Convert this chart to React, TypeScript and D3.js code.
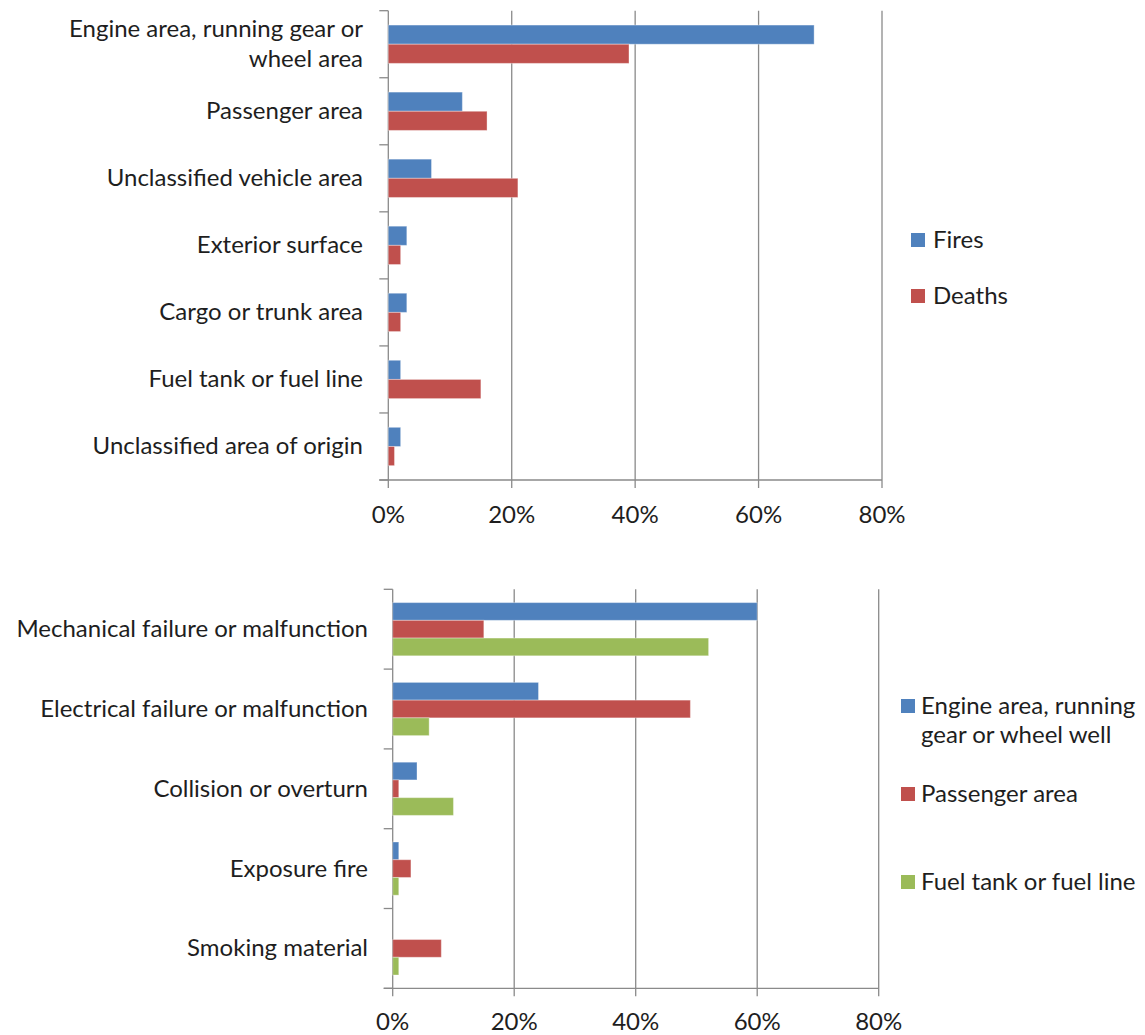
import React from "react";
import * as d3 from "d3";

const topCategories = [
  ["Engine area, running gear or", "wheel area"],
  ["Passenger area"],
  ["Unclassified vehicle area"],
  ["Exterior surface"],
  ["Cargo or trunk area"],
  ["Fuel tank or fuel line"],
  ["Unclassified area of origin"],
];
const topSeriesNames = ["Fires", "Deaths"];
const topFires = [69, 12, 7, 3, 3, 2, 2];
const topDeaths = [39, 16, 21, 2, 2, 15, 1];

const bottomCategories = [
  ["Mechanical failure or malfunction"],
  ["Electrical failure or malfunction"],
  ["Collision or overturn"],
  ["Exposure fire"],
  ["Smoking material"],
];
const bottomSeriesNames = [
  ["Engine area, running", "gear or wheel well"],
  ["Passenger area"],
  ["Fuel tank or fuel line"],
];
const bottomEngine = [60, 24, 4, 1, 0];
const bottomPassenger = [15, 49, 1, 3, 8];
const bottomFuel = [52, 6, 10, 1, 1];

const xTicks = [0, 20, 40, 60, 80];

const COLORS = ["#4F81BD", "#C0504D", "#9BBB59"];
const FONT = "Lato, 'Open Sans', sans-serif";
const FS = 24;
const SX = 1.0;
const DY = -1.5;
const TEXT = "#1e1e1e";
const GRID = "#8a8a8a";

function Label({ x, y, lines, anchor, lh }) {
  const n = lines.length;
  return (
    <g>
      {lines.map((l, i) => (
        <text
          key={i}
          transform={`translate(${x},${y + DY + (i - (n - 1) / 2) * lh}) scale(${SX},1)`}
          textAnchor={anchor}
          dominantBaseline="central"
          fontFamily={FONT}
          fontSize={FS}
          fill={TEXT}
        >
          {l}
        </text>
      ))}
    </g>
  );
}

function BarChart({ cats, series, names, x0, x1, y0, y1, labelX, tickLabelY, legendSquareX, legendTextX, legendYs, legendLH }) {
  const x = d3.scaleLinear().domain([0, 80]).range([x0, x1]);
  const keys = cats.map((_, i) => String(i));
  const yBand = d3.scaleBand().domain(keys).range([y0, y1]).padding(0);
  const bw = yBand.bandwidth();
  const n = series.length;
  const b = bw / (n + 1.5);
  const g0 = (bw - n * b) / 2;
  const inner = d3.scaleBand().domain(d3.range(n).map(String)).range([g0, g0 + n * b]).padding(0);
  const boundaries = d3.range(cats.length + 1).map((i) => y0 + i * bw);
  return (
    <g>
      {xTicks.slice(1).map((t) => (
        <line key={t} x1={x(t)} x2={x(t)} y1={y0} y2={y1 + 8} stroke={GRID} strokeWidth={1.3} />
      ))}
      <line x1={x(0)} x2={x(0)} y1={y0} y2={y1 + 8} stroke={GRID} strokeWidth={1.3} />
      <line x1={x(0) - 9} x2={x(80)} y1={y1} y2={y1} stroke={GRID} strokeWidth={1.3} />
      {boundaries.map((by, i) => (
        <line key={i} x1={x(0) - 9} x2={x(0)} y1={by} y2={by} stroke={GRID} strokeWidth={1.3} />
      ))}
      {cats.map((c, ci) =>
        series.map((s, si) => (
          <rect
            key={ci + "-" + si}
            x={x(0)}
            y={yBand(String(ci)) + inner(String(si))}
            width={Math.max(0, x(s[ci]) - x(0))}
            height={inner.bandwidth()}
            fill={COLORS[si]}
            stroke="rgba(255,255,255,0.35)"
            strokeWidth={1}
          />
        ))
      )}
      {cats.map((c, ci) => (
        <Label key={ci} x={labelX} y={yBand(String(ci)) + bw / 2} lines={c} anchor="end" lh={30} />
      ))}
      {xTicks.map((t) => (
        <Label key={t} x={x(t)} y={tickLabelY} lines={[t + "%"]} anchor="middle" lh={30} />
      ))}
      {names.map((nm, i) => {
        const lines = Array.isArray(nm) ? nm : [nm];
        const cy = legendYs[i];
        return (
          <g key={i}>
            <rect x={legendSquareX} y={cy - 7} width={14} height={14} fill={COLORS[i]} />
            {lines.map((l, li) => (
              <text
                key={li}
                transform={`translate(${legendTextX},${cy + DY + li * legendLH}) scale(${SX},1)`}
                dominantBaseline="central"
                fontFamily={FONT}
                fontSize={FS}
                fill={TEXT}
              >
                {l}
              </text>
            ))}
          </g>
        );
      })}
    </g>
  );
}

export default function App() {
  return (
    <svg width={1145} height={1035} style={{ position: "absolute", left: 0, top: 0, background: "#fff" }}>
      <rect width={1145} height={1035} fill="#fff" />
      <BarChart
        cats={topCategories}
        series={[topFires, topDeaths]}
        names={topSeriesNames}
        x0={388.3}
        x1={882}
        y0={10.7}
        y1={480}
        labelX={363}
        tickLabelY={515}
        legendSquareX={911}
        legendTextX={933}
        legendYs={[240, 296]}
        legendLH={29}
      />
      <BarChart
        cats={bottomCategories}
        series={[bottomEngine, bottomPassenger, bottomFuel]}
        names={bottomSeriesNames}
        x0={392.7}
        x1={878.7}
        y0={589.3}
        y1={988.3}
        labelX={368}
        tickLabelY={1022}
        legendSquareX={901}
        legendTextX={921}
        legendYs={[706, 794, 882]}
        legendLH={29}
      />
    </svg>
  );
}
